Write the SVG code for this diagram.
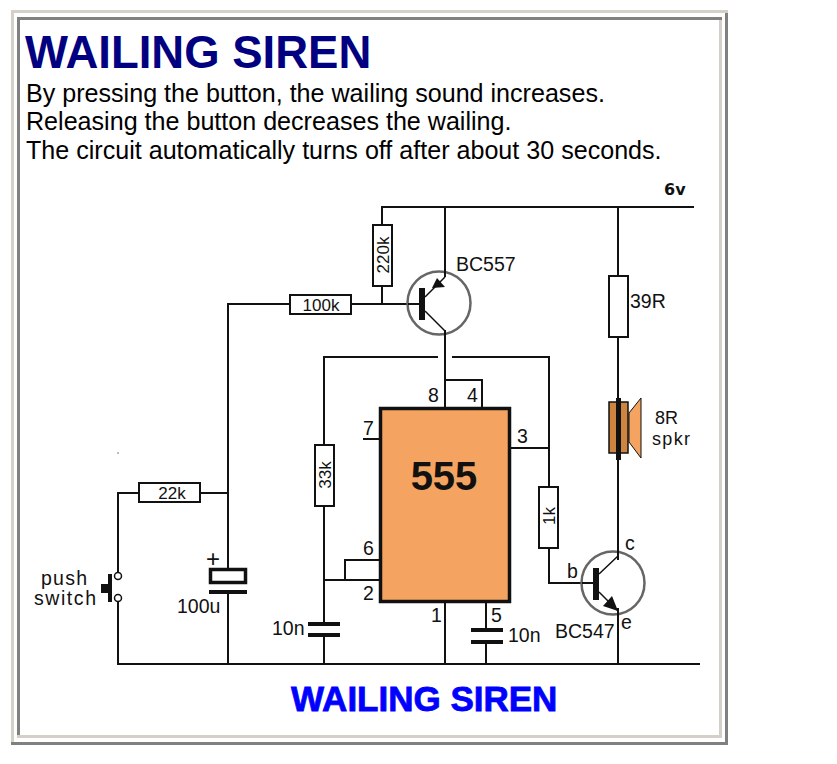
<svg xmlns="http://www.w3.org/2000/svg" width="837" height="764" viewBox="0 0 837 764">
<style>
text{font-family:"Liberation Sans",Arial,sans-serif;fill:#111}
.w{fill:none;stroke:#111;stroke-width:2}
.t{fill:none;stroke:#111;stroke-width:1.500}
.r{fill:#fff;stroke:#111;stroke-width:2}
.l{font-size:19.500px}
.s{font-size:17px}
.k{fill:#111;stroke:none}
.c{fill:#fff;stroke:#666;stroke-width:2.500}
.b{font-size:25.100px;fill:#000}
.lt{fill:#d4d0c8}
.dk{fill:#808080}
</style>
<rect width="837" height="764" fill="#fff"/>
<g id="frame">
<rect class="lt" x="11" y="10" width="717" height="3"/>
<rect class="lt" x="11" y="10" width="3" height="732"/>
<rect class="dk" x="725" y="13" width="3" height="732"/>
<rect class="dk" x="11" y="742" width="717" height="3"/>
<rect class="dk" x="17" y="17" width="705" height="3"/>
<rect class="dk" x="17" y="17" width="3" height="718"/>
<rect class="lt" x="719" y="20" width="3" height="718"/>
<rect class="lt" x="17" y="735" width="705" height="3"/>
</g>
<text x="25" y="68" font-size="45.500" font-weight="bold" style="fill:#000080">WAILING SIREN</text>
<text class="b" x="26" y="102">By pressing the button, the wailing sound increases.</text>
<text class="b" x="26" y="130">Releasing the button decreases the wailing.</text>
<text class="b" x="26" y="158.500">The circuit automatically turns off after about 30 seconds.</text>
<g id="connectors">
<path class="w" d="M382 225V207H694M445 207V276M445 331V407M382 286V304M351 304H420M290 304H228V568M228 592V664M228 493H200M139 493H118V572M118 602V664H700M324 445V357H438M452 357H549V487M324 506V624M324 635V664M345 580V560H380M324 580H380M445 407V380H482V407M511 448H549M363 439H380M445 602V664M486 602V630M486 641V664M549 548V583H593M618 207V276M618 337V664"/>
</g>
<g id="ic555">
<rect x="380.500" y="408.500" width="129" height="193" fill="#f4a460" stroke="#111" stroke-width="3.500"/>
<text x="444" y="490" font-size="40" font-weight="bold" text-anchor="middle">555</text>
<text class="l" x="428" y="402">8</text><text class="l" x="467" y="402">4</text>
<text class="l" x="517" y="443">3</text><text class="l" x="363" y="435">7</text>
<text class="l" x="363" y="555">6</text><text class="l" x="363" y="600">2</text>
<text class="l" x="431" y="622">1</text><text class="l" x="491" y="622">5</text>
</g>
<g id="r220k"><rect class="r" x="373" y="225" width="19" height="61"/><text class="s" transform="translate(389,255) rotate(-90)" text-anchor="middle">220k</text></g>
<g id="r100k"><rect class="r" x="290" y="295" width="61" height="19"/><text class="s" x="321" y="311" text-anchor="middle">100k</text></g>
<g id="r22k"><rect class="r" x="139" y="483" width="61" height="19"/><text class="s" x="172" y="499" text-anchor="middle">22k</text></g>
<g id="r33k"><rect class="r" x="315" y="445" width="19" height="61"/><text class="s" transform="translate(331,475) rotate(-90)" text-anchor="middle">33k</text></g>
<g id="r1k"><rect class="r" x="539" y="487" width="19" height="61"/><text class="s" transform="translate(555,516) rotate(-90)" text-anchor="middle">1k</text></g>
<g id="r39r"><rect class="r" x="609" y="276" width="19" height="61"/><text class="l" x="630" y="308">39R</text></g>
<g id="q1">
<circle class="c" cx="439" cy="303" r="31.500"/>
<path class="w" d="M408 304H420M445 270V277M445 330V338"/>
<rect class="k" x="419" y="288" width="6" height="32"/>
<path class="k" d="M432 288L437 278L445 287Z"/>
<path class="t" d="M425 297L445 277M425 311L445 331"/>
<text class="l" x="456" y="271">BC557</text>
</g>
<g id="q2">
<circle class="c" cx="613" cy="583" r="31.500"/>
<path class="w" d="M582 583H593M618 550V560M618 608V616"/>
<rect class="k" x="593" y="568" width="6" height="32"/>
<path class="k" d="M618 611L603 606L612 596Z"/>
<path class="t" d="M599 574L618 556M599 592L618 611"/>
<text class="l" x="567" y="578">b</text><text class="l" x="625" y="550">c</text><text class="l" x="621" y="629">e</text>
<text class="l" x="555" y="638">BC547</text>
</g>
<g id="speaker">
<rect x="609" y="402" width="19" height="51" fill="#cd853f" stroke="#111" stroke-width="1.500"/>
<rect class="k" x="616" y="398" width="5" height="62"/>
<path d="M629 413L641 398V458L629 442Z" fill="#f4a460" stroke="#111" stroke-width="1"/>
<text x="655" y="424" font-size="18">8R</text><text x="652" y="445" font-size="18" textLength="38">spkr</text>
</g>
<g id="c100u">
<rect x="210.500" y="569.500" width="35" height="13" fill="#fff" stroke="#111" stroke-width="3.500"/>
<rect class="k" x="209" y="590" width="38" height="4"/>
<text x="206" y="567" font-size="24">+</text>
<text class="l" x="177" y="613">100u</text>
</g>
<g id="c10n1">
<rect class="k" x="308" y="622" width="32" height="4"/><rect class="k" x="308" y="633" width="32" height="4"/>
<text class="l" x="272" y="635">10n</text>
</g>
<g id="c10n2">
<rect class="k" x="471" y="628" width="32" height="4"/><rect class="k" x="471" y="640" width="32" height="4"/>
<text class="l" x="508" y="642">10n</text>
</g>
<g id="switch">
<circle cx="118" cy="576" r="3.500" fill="#fff" stroke="#111" stroke-width="1.500"/>
<circle cx="118" cy="598" r="3.500" fill="#fff" stroke="#111" stroke-width="1.500"/>
<rect class="k" x="108" y="574" width="4" height="28"/>
<rect class="k" x="101" y="584" width="8" height="9"/>
<text class="l" x="41" y="585" textLength="46">push</text><text class="l" x="34" y="605" textLength="62">switch</text>
</g>
<text x="664" y="195" font-size="16" font-weight="bold" style="font-family:'DejaVu Sans',sans-serif">6v</text>
<text x="291" y="710.500" font-size="35" font-weight="bold" stroke="#0000ff" stroke-width="0.800" style="fill:#0000ff">WAILING SIREN</text>
<circle cx="118" cy="453" r="0.800" fill="#666"/>
</svg>
